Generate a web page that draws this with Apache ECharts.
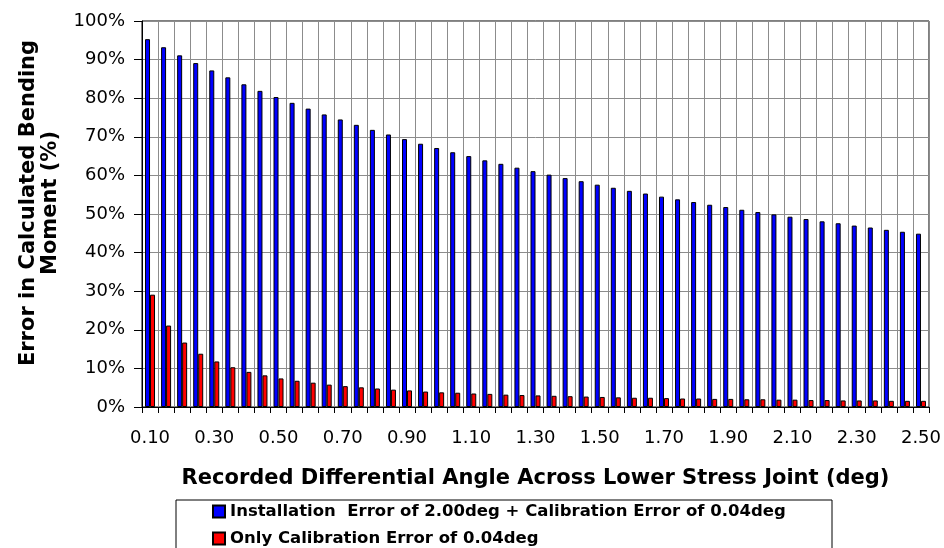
<!DOCTYPE html>
<html>
<head>
<meta charset="utf-8">
<script src="https://cdn.jsdelivr.net/npm/echarts@6/dist/echarts.min.js"></script>
<style>
  html, body { margin: 0; padding: 0; background: #fff; }
  #chart { width: 944px; height: 548px; }
</style>
</head>
<body>
<div id="chart"></div>
<script>
// Recorded differential angle (deg)
const angles = ['0.10','0.15','0.20','0.25','0.30','0.35','0.40','0.45','0.50','0.55',
  '0.60','0.65','0.70','0.75','0.80','0.85','0.90','0.95','1.00','1.05',
  '1.10','1.15','1.20','1.25','1.30','1.35','1.40','1.45','1.50','1.55',
  '1.60','1.65','1.70','1.75','1.80','1.85','1.90','1.95','2.00','2.05',
  '2.10','2.15','2.20','2.25','2.30','2.35','2.40','2.45','2.50'];

// Error in calculated bending moment (%), installation + calibration error
const installErr = [95.3, 93.2, 91.1, 89.1, 87.2, 85.4, 83.6, 81.9, 80.3, 78.8,
  77.3, 75.8, 74.5, 73.1, 71.8, 70.6, 69.4, 68.2, 67.1, 66.0,
  65.0, 63.9, 63.0, 62.0, 61.1, 60.2, 59.3, 58.5, 57.6, 56.8,
  56.0, 55.3, 54.5, 53.8, 53.1, 52.4, 51.8, 51.1, 50.5, 49.9,
  49.3, 48.7, 48.1, 47.6, 47.0, 46.5, 45.9, 45.4, 44.9];

// Error in calculated bending moment (%), calibration error only
const calibErr = [29.1, 21.1, 16.7, 13.8, 11.8, 10.3, 9.1, 8.2, 7.4, 6.8,
  6.3, 5.8, 5.4, 5.1, 4.8, 4.5, 4.3, 4.0, 3.8, 3.7,
  3.5, 3.4, 3.2, 3.1, 3.0, 2.9, 2.8, 2.7, 2.6, 2.5,
  2.4, 2.4, 2.3, 2.2, 2.2, 2.1, 2.1, 2.0, 2.0, 1.9,
  1.9, 1.8, 1.8, 1.7, 1.7, 1.7, 1.6, 1.6, 1.6];

const seriesNames = [
  'Installation  Error of 2.00deg + Calibration Error of 0.04deg',
  'Only Calibration Error of 0.04deg'
];

const FONT = 'DejaVu Sans';
const gridColor = '#8c8c8c';

const legendText = { fontFamily: FONT, fontWeight: 'bold', fontSize: 16.5, color: '#000' };
const legendBase = {
  orient: 'vertical', left: 212, padding: 0,
  itemWidth: 12, itemHeight: 12, itemGap: 6,
  icon: 'rect', textStyle: legendText
};

const chart = echarts.init(document.getElementById('chart'), null, { renderer: 'canvas' });

chart.setOption({
  animation: false,
  backgroundColor: '#ffffff',
  grid: {
    left: 142, right: 14, top: 21, bottom: 141,
    show: true, borderColor: '#000', borderWidth: 1, backgroundColor: 'transparent'
  },
  graphic: [{
    type: 'rect',
    shape: { x: 176, y: 500, width: 656, height: 80 },
    style: { fill: 'none', stroke: '#000', lineWidth: 1 },
    z: 0
  }],
  legend: [
    Object.assign({}, legendBase, { top: 503, data: [seriesNames[0]] }),
    Object.assign({}, legendBase, { top: 530, data: [seriesNames[1]] })
  ],
  xAxis: {
    type: 'category',
    data: angles,
    boundaryGap: true,
    name: 'Recorded Differential Angle Across Lower Stress Joint (deg)',
    nameLocation: 'middle',
    nameGap: 61,
    nameTextStyle: { fontFamily: FONT, fontWeight: 'bold', fontSize: 21, color: '#000' },
    axisLine: { lineStyle: { color: '#000', width: 1 } },
    axisTick: { show: true, interval: 0, length: 6, lineStyle: { color: '#000' } },
    axisLabel: { interval: 3, margin: 22, fontFamily: FONT, fontSize: 18, color: '#000' },
    splitLine: { show: true, interval: 0, lineStyle: { color: gridColor, width: 1 } }
  },
  yAxis: {
    type: 'value',
    min: 0, max: 100, interval: 10,
    name: 'Error in Calculated Bending\nMoment (%)',
    nameLocation: 'middle',
    nameGap: 80,
    nameTextStyle: {
      fontFamily: FONT, fontWeight: 'bold', fontSize: 21, color: '#000',
      lineHeight: 22, padding: [0, 0, 0, 22]
    },
    axisLine: { show: true, lineStyle: { color: '#000', width: 1 } },
    axisTick: { show: true, length: 8, lineStyle: { color: '#000' } },
    axisLabel: { formatter: '{value}%', margin: 17, fontFamily: FONT, fontSize: 18, color: '#000' },
    splitLine: { show: true, lineStyle: { color: gridColor, width: 1 } }
  },
  series: [
    {
      name: seriesNames[0],
      type: 'bar',
      data: installErr,
      barWidth: 5,
      barGap: '0%',
      itemStyle: { color: '#0000ff', borderColor: '#000', borderWidth: 1 }
    },
    {
      name: seriesNames[1],
      type: 'bar',
      data: calibErr,
      barWidth: 5,
      barGap: '0%',
      itemStyle: { color: '#ff0000', borderColor: '#000', borderWidth: 1 }
    }
  ]
});
</script>
</body>
</html>
